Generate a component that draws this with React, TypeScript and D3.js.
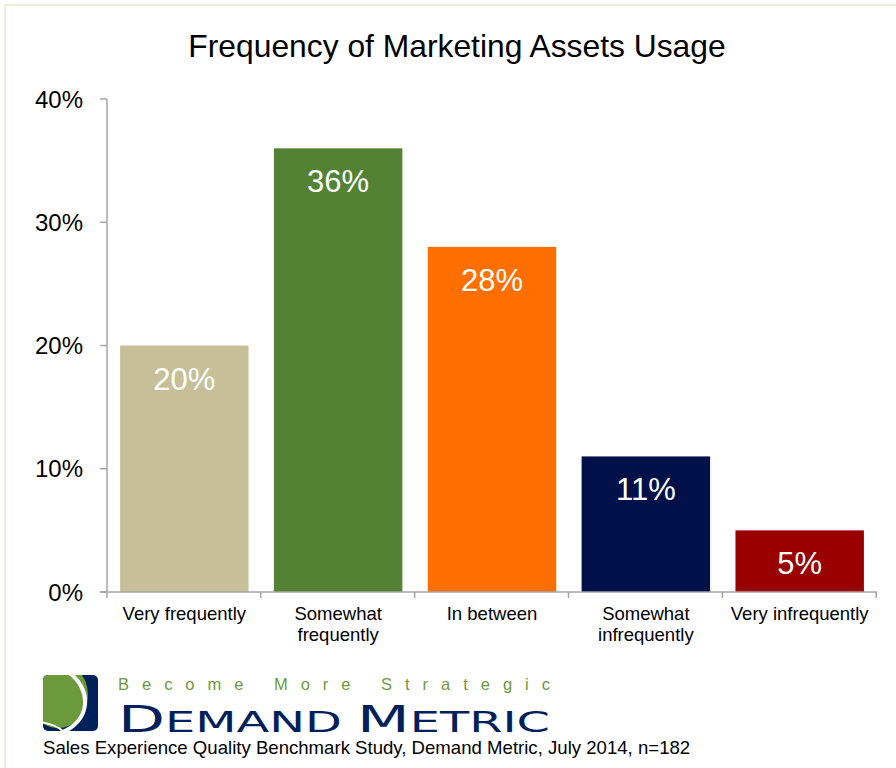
import React from "react";
import * as d3 from "d3";

const categories = ["Very frequently", "Somewhat frequently", "In between", "Somewhat infrequently", "Very infrequently"];
const values = [20, 36, 28, 11, 5];
const barColors = ["#c7bf97", "#548235", "#ff6f00", "#00114a", "#990000"];
const yTicks = [0, 10, 20, 30, 40];
// how the category labels wrap under the axis
const categoryLines = [
    ["Very frequently"],
    ["Somewhat", "frequently"],
    ["In between"],
    ["Somewhat", "infrequently"],
    ["Very infrequently"],
];

const font = "Arial, 'Liberation Sans', sans-serif";

export default function App() {
    const width = 896;
    const height = 768;
    const plot = { left: 107, right: 877, top: 99, bottom: 592 };

    const x = d3
        .scaleBand<string>()
        .domain(categories)
        .range([plot.left, plot.right])
        .paddingInner(0.165)
        .paddingOuter(0.085);

    const y = d3.scaleLinear().domain([0, 40]).range([plot.bottom, plot.top]);

    const step = x.step();
    const boundaries = d3.range(categories.length + 1).map((i) => plot.left + i * step);

    const axisColor = "#a6a6a6";

    return (
        <svg
            width={width}
            height={height}
            style={{ position: "absolute", left: 0, top: 0, background: "#fff" }}
        >
            {/* faint frame on top/left */}
            <line x1={5} x2={width} y1={5} y2={5} stroke="#efebdd" strokeWidth={2} />
            <line x1={5} x2={5} y1={5} y2={height} stroke="#efebdd" strokeWidth={2} />

            <text x={457} y={57} textAnchor="middle" fontFamily={font} fontSize={31.8} fill="#000">
                Frequency of Marketing Assets Usage
            </text>

            {/* bars */}
            {categories.map((c, i) => (
                <g key={c}>
                    <rect
                        x={x(c)}
                        y={y(values[i])}
                        width={x.bandwidth()}
                        height={plot.bottom - y(values[i])}
                        fill={barColors[i]}
                    />
                    <text
                        x={(x(c) ?? 0) + x.bandwidth() / 2}
                        y={y(values[i]) + 44}
                        textAnchor="middle"
                        fontFamily={font}
                        fontSize={31}
                        fill="#fff"
                    >
                        {values[i]}%
                    </text>
                </g>
            ))}

            {/* y axis */}
            <line x1={plot.left} x2={plot.left} y1={plot.top} y2={plot.bottom} stroke={axisColor} strokeWidth={1.5} />
            {yTicks.map((t) => (
                <g key={t}>
                    <line x1={plot.left - 7} x2={plot.left} y1={y(t)} y2={y(t)} stroke={axisColor} strokeWidth={1.5} />
                    <text
                        x={83}
                        y={y(t) + 8.5}
                        textAnchor="end"
                        fontFamily={font}
                        fontSize={24}
                        fill="#000"
                    >
                        {t}%
                    </text>
                </g>
            ))}

            {/* x axis */}
            <line x1={plot.left - 7} x2={plot.right} y1={plot.bottom} y2={plot.bottom} stroke={axisColor} strokeWidth={1.5} />
            {boundaries.map((bx, i) => (
                <line key={i} x1={bx} x2={bx} y1={plot.bottom} y2={plot.bottom + 6} stroke={axisColor} strokeWidth={1.5} />
            ))}
            {categories.map((c, i) => (
                <text
                    key={c}
                    x={(x(c) ?? 0) + x.bandwidth() / 2}
                    y={620}
                    textAnchor="middle"
                    fontFamily={font}
                    fontSize={18.5}
                    fill="#000"
                >
                    {categoryLines[i].map((ln, j) => (
                        <tspan key={j} x={(x(c) ?? 0) + x.bandwidth() / 2} dy={j === 0 ? 0 : 21}>
                            {ln}
                        </tspan>
                    ))}
                </text>
            ))}

            {/* logo */}
            <defs>
                <clipPath id="logoClip">
                    <rect x={43} y={675} width={55} height={56} rx={5} />
                </clipPath>
            </defs>
            <g clipPath="url(#logoClip)">
                <rect x={43} y={675} width={55} height={56} fill="#00205b" />
                <ellipse cx={58} cy={695} rx={30} ry={33} fill="#6b9a3a" />
                <path
                    d="M68,672 C92,688 92,722 60,733"
                    fill="none"
                    stroke="#fff"
                    strokeWidth={4}
                />
                <path
                    d="M40,722 C52,724 62,728 66,735"
                    fill="none"
                    stroke="#fff"
                    strokeWidth={2}
                />
            </g>
            <text
                x={118}
                y={690}
                fontFamily={font}
                fontSize={16.5}
                fill="#6b9a3a"
                textLength={432}
                lengthAdjust="spacing"
            >
                Become More Strategic
            </text>
            <text
                x={118}
                y={732}
                fontFamily="'DejaVu Sans', Verdana, sans-serif"
                fill="#00205b"
                textLength={432}
                lengthAdjust="spacingAndGlyphs"
            >
                <tspan fontSize={37}>D</tspan>
                <tspan fontSize={29}>EMAND </tspan>
                <tspan fontSize={37}>M</tspan>
                <tspan fontSize={29}>ETRIC</tspan>
            </text>

            <text x={43} y={754} fontFamily={font} fontSize={18.6} fill="#000">
                Sales Experience Quality Benchmark Study, Demand Metric, July 2014, n=182
            </text>
        </svg>
    );
}
